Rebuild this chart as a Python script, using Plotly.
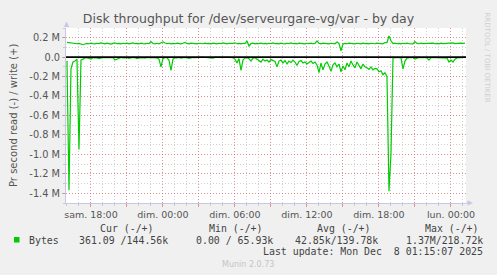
import pandas as pd
import plotly.graph_objects as go

# ---------------- data (k bytes / s, 10-minute samples) ----------------
START_SAMPLE = "2025-12-06 16:00"
SAMPLE_FREQ = "10min"
RANGE_START = "2025-12-06 15:55:07"
RANGE_END = "2025-12-08 01:15:07"

read_k = [
    40, 1370, 120, 50, 40, 20, 950, 30, 20, 8,
    5, 10, 20, 5, 3, 8, 15, 5, 3, 4,
    6, 3, 10, 5, 30, 20, 5, 3, 8, 4,
    6, 12, 4, 3, 5, 15, 8, 3, 4, 10,
    3, 5, 4, 6, 3, 8, 20, 100, 15, 4,
    6, 30, 136, 20, 5, 8, 3, 10, 4, 3,
    6, 12, 4, 3, 5, 2, 3, 2, 1, 2,
    1, 2, 3, 10, 2, 1, 2, 1, 2, 1,
    2, 3, 2, 5, 20, 60, 15, 136, 30, 8,
    5, 15, 40, 10, 5, 20, 30, 50, 20, 40,
    30, 50, 25, 35, 45, 100, 40, 30, 60, 35,
    70, 40, 55, 30, 50, 85, 45, 35, 60, 50,
    70, 55, 40, 65, 50, 80, 160, 60, 130, 70,
    50, 90, 146, 80, 60, 100, 70, 150, 90, 130,
    60, 100, 40, 80, 110, 50, 90, 120, 70, 100,
    110, 125, 100, 130, 115, 120, 150, 140, 180, 160,
    200, 1380, 990, 10, 5, 3, 4, 8, 120, 40,
    10, 5, 3, 6, 20, 8, 3, 5, 4, 3,
    6, 30, 5, 3, 4, 2, 5, 3, 8, 4,
    10, 50, 30, 50, 20, 8, 3, 5, 2, 0.36,
]

write_k = [
    152, 148, 145, 140, 143, 138, 142, 136, 128, 135,
    142, 138, 145, 140, 136, 143, 139, 146, 141, 137,
    144, 139, 135, 142, 147, 138, 141, 136, 143, 139,
    145, 137, 141, 146, 138, 142, 136, 144, 140, 137,
    143, 139, 160, 141, 136, 143, 138, 145, 158, 146,
    139, 143, 137, 142, 138, 144, 140, 136, 143, 152,
    141, 137, 144, 139, 142, 136, 143, 140, 138, 145,
    139, 142, 137, 144, 140, 136, 143, 139, 146, 140,
    137, 143, 139, 142, 148, 138, 141, 136, 143, 139,
    167, 115, 140, 144, 137, 142, 139, 145, 138, 141,
    136, 143, 140, 146, 138, 142, 137, 144, 139, 136,
    143, 140, 147, 138, 142, 136, 144, 139, 141, 137,
    143, 140, 145, 138, 142, 167, 143, 137, 144, 139,
    141, 136, 143, 140, 138, 156, 142, 66, 135, 142,
    138, 144, 139, 141, 136, 143, 140, 137, 145, 139,
    142, 136, 143, 140, 138, 144, 139, 142, 137, 150,
    150, 219, 168, 140, 144, 138, 142, 137, 143, 140,
    145, 138, 141, 137, 160, 142, 138, 144, 139, 141,
    136, 143, 140, 145, 138, 142, 137, 144, 139, 141,
    138, 143, 140, 146, 139, 142, 138, 144, 141, 144.56,
]

Y_TICKS = [0.2e6, 0.0, -0.2e6, -0.4e6, -0.6e6, -0.8e6, -1.0e6, -1.2e6, -1.4e6]
Y_TICK_TEXT = ["0.2 M", "0.0", "-0.2 M", "-0.4 M", "-0.6 M", "-0.8 M", "-1.0 M", "-1.2 M", "-1.4 M"]
Y_RANGE = [-1.5e6, 0.3e6]

X_TICKS = ["2025-12-06 18:00", "2025-12-06 21:00", "2025-12-07 00:00", "2025-12-07 03:00",
           "2025-12-07 06:00", "2025-12-07 09:00", "2025-12-07 12:00", "2025-12-07 15:00",
           "2025-12-07 18:00", "2025-12-07 21:00", "2025-12-08 00:00"]
X_TICK_TEXT = ["sam. 18:00", "", "dim. 00:00", "", "dim. 06:00", "", "dim. 12:00", "",
               "dim. 18:00", "", "lun. 00:00"]

TITLE = "Disk throughput for /dev/serveurgare-vg/var - by day"
Y_TITLE = "Pr second read (-) / write (+)"
LEGEND_NAME = "Bytes"
COL_HEADERS = ["Cur (-/+)", "Min (-/+)", "Avg (-/+)", "Max (-/+)"]
COL_VALUES = ["361.09 /144.56k", "0.00 / 65.93k", "42.85k/139.78k", "1.37M/218.72k"]
LAST_UPDATE = "Last update: Mon Dec  8 01:15:07 2025"
FOOTER = "Munin 2.0.73"
SIDE_TEXT = "RRDTOOL / TOBI OETIKER"

assert len(read_k) == 200 and len(write_k) == 200

# ---------------- figure ----------------
W, H = 497, 275
ML, MR, MT, MB = 66, 31, 28, 72
PW, PH = W - ML - MR, H - MT - MB

def px(x):
    return (x - ML) / PW

def py(y):
    return (MT + PH - y) / PH

times = pd.date_range(START_SAMPLE, periods=len(read_k), freq=SAMPLE_FREQ)
GREEN = "#00cc00"

fig = go.Figure()
fig.add_trace(go.Scatter(x=times, y=[-v * 1000 for v in read_k], mode="lines",
                         line=dict(color=GREEN, width=1.2), showlegend=False, hoverinfo="skip"))
fig.add_trace(go.Scatter(x=times, y=[v * 1000 for v in write_k], mode="lines",
                         line=dict(color=GREEN, width=1.2), showlegend=False, hoverinfo="skip"))

MAJ = "rgba(230,90,90,0.55)"
MINR = "rgba(150,150,150,0.45)"
AXC = "#c8c8e6"
TXT = "#555555"

fig.update_layout(
    width=W, height=H,
    margin=dict(l=ML, r=MR, t=MT, b=MB, pad=0),
    paper_bgcolor="#f0f0f0", plot_bgcolor="#ffffff",
    font=dict(family="DejaVu Sans", color=TXT, size=10),
    showlegend=False,
    title=dict(text=TITLE, x=0.5, xanchor="center", y=1 - 19 / H, yanchor="middle",
               font=dict(family="DejaVu Sans", size=12.5, color="#555555")),
)
fig.update_xaxes(
    type="date", range=[RANGE_START, RANGE_END],
    tickmode="array", tickvals=X_TICKS, ticktext=X_TICK_TEXT,
    showgrid=True, gridcolor=MAJ, griddash="1px,2px", gridwidth=1,
    ticks="outside", ticklen=3, tickcolor=MAJ, tickfont=dict(size=9.5, color=TXT),
    showline=True, linecolor=AXC, linewidth=1, zeroline=False,
    minor=dict(dtick=3600000, tick0="2025-12-06 00:00", showgrid=True, gridcolor=MINR,
               griddash="1px,2px", ticks="outside", ticklen=2, tickcolor=MINR),
)
fig.update_yaxes(
    range=Y_RANGE, tickmode="array", tickvals=Y_TICKS, ticktext=Y_TICK_TEXT,
    showgrid=True, gridcolor=MAJ, griddash="1px,2px", gridwidth=1,
    ticks="outside", ticklen=3, tickcolor=MAJ, tickfont=dict(size=9.8, color=TXT),
    showline=True, linecolor=AXC, linewidth=1, zeroline=False,
    minor=dict(tick0=0, dtick=1e5, showgrid=True, gridcolor=MINR, griddash="1px,2px",
               ticks="outside", ticklen=2, tickcolor=MINR),
)

shapes = [
    # zero rule
    dict(type="line", xref="paper", yref="y", x0=0, x1=1, y0=0, y1=0,
         line=dict(color="#000000", width=1.6), layer="above"),
    # axis arrows
    dict(type="path", xref="paper", yref="paper",
         path=f"M {px(63.8)} {py(27)} L {px(69.2)} {py(27)} L {px(66.5)} {py(21.5)} Z",
         fillcolor=AXC, line=dict(width=0), layer="above"),
    dict(type="path", xref="paper", yref="paper",
         path=f"M {px(467.5)} {py(200.3)} L {px(467.5)} {py(205.7)} L {px(473)} {py(203)} Z",
         fillcolor=AXC, line=dict(width=0), layer="above"),
    dict(type="line", xref="paper", yref="paper", x0=1, x1=px(468), y0=0, y1=0,
         line=dict(color=AXC, width=1)),
    # legend swatch
    dict(type="rect", xref="paper", yref="paper", x0=px(14), x1=px(19.5), y0=py(242.5), y1=py(237),
         fillcolor=GREEN, line=dict(width=0)),
]

MONO = dict(family="DejaVu Sans Mono", size=9.9, color="#444444")
ann = []

def txt(x, y, s, font, xanchor="left", textangle=0):
    ann.append(dict(x=px(x), y=py(y), xref="paper", yref="paper", text=s, showarrow=False,
                    xanchor=xanchor, yanchor="middle", font=font, textangle=textangle))

HEAD_X = [98, 206.7, 315, 422.7]
VAL_X = [77.3, 194.3, 293.3, 404.3]
for hx, h in zip(HEAD_X, COL_HEADERS):
    txt(hx, 228, h, MONO)
txt(26.7, 240, LEGEND_NAME, MONO)
for vx, v in zip(VAL_X, COL_VALUES):
    txt(vx, 240, v, MONO)
txt(261, 251.7, LAST_UPDATE, MONO)
txt(248, 264.5, FOOTER, dict(family="DejaVu Sans", size=8, color="#c4c4c4"), xanchor="center")
txt(13, 116, Y_TITLE, dict(family="DejaVu Sans", size=10, color=TXT), xanchor="center", textangle=-90)
txt(486.5, 57, SIDE_TEXT, dict(family="DejaVu Sans", size=7, color="#cfcfcf"), xanchor="center", textangle=90)

fig.update_layout(shapes=shapes, annotations=ann)
fig.write_html("out.html")
